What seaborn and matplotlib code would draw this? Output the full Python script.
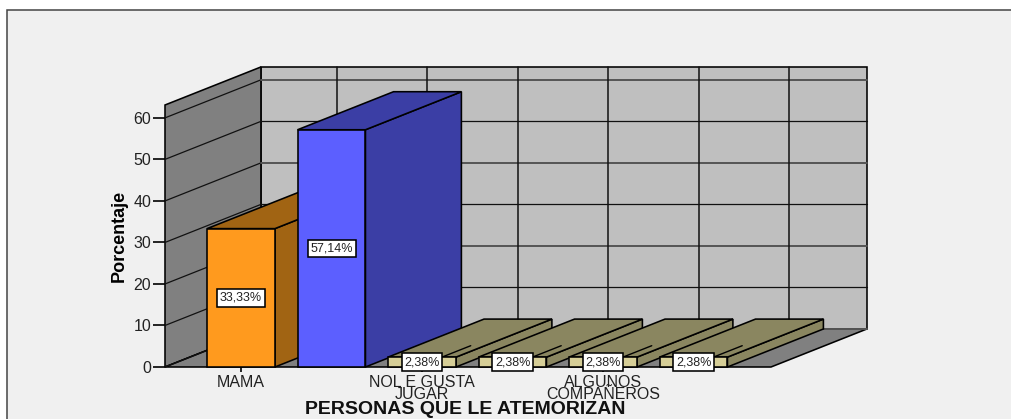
import matplotlib
matplotlib.use("Agg")
import matplotlib.pyplot as plt
import pandas as pd
import seaborn as sns
from matplotlib.patches import Polygon, Rectangle

# Datos
CATEGORIES = ["MAMA", " ", "NOL E GUSTA\nJUGAR", "  ", "ALGUNOS\nCOMPAÑEROS", "   "]
VALUES = [33.33, 57.14, 2.38, 2.38, 2.38, 2.38]
VALUE_LABELS = ["33,33%", "57,14%", "2,38%", "2,38%", "2,38%", "2,38%"]
FRONT_COLORS = ["#FF9A1E", "#5C5FFF", "#D6CE97", "#D6CE97", "#D6CE97", "#D6CE97"]
SIDE_COLORS = ["#A16413", "#3B3EA5", "#8A8660", "#8A8660", "#8A8660", "#8A8660"]
Y_TICKS = [0, 10, 20, 30, 40, 50, 60]

# Perspectiva del cubo, en unidades de los ejes
DEPTH_X = 1.06
DEPTH_Y = 9.16
X_LEFT, X_RIGHT = -0.84, 5.856
Y_TOP = 63.1
BAR_WIDTH = 0.75
EDGE = 1.15

sns.set_theme(style="white")
plt.rcParams["font.family"] = ["Liberation Sans", "DejaVu Sans"]

fig = plt.figure(figsize=(10.11, 4.19), dpi=100, facecolor="white")

# Marco de fondo gris claro
fig.add_artist(Rectangle((7 / 1011, -0.05), 1.05, 0.05 + 409 / 419, transform=fig.transFigure,
                         facecolor="#F0F0F0", edgecolor="#444444", linewidth=1.1, zorder=-1))

ax = fig.add_axes([165 / 1011, 52 / 419, 606 / 1011, 262 / 419])
ax.patch.set_visible(False)


def face(points, color, z):
    ax.add_patch(Polygon(points, closed=True, facecolor=color, edgecolor="black",
                         linewidth=EDGE, zorder=z, clip_on=False, joinstyle="miter"))


df = pd.DataFrame({"categoria": CATEGORIES, "porcentaje": VALUES})
sns.barplot(data=df, x="categoria", y="porcentaje", hue="categoria", palette=FRONT_COLORS,
            dodge=False, legend=False, width=BAR_WIDTH, edgecolor="black", linewidth=EDGE,
            saturation=1, ax=ax)
fronts = list(ax.patches)

ax.set_xlim(X_LEFT, X_RIGHT)
ax.set_ylim(0, Y_TOP)

# Paredes y suelo
back_l, back_r = X_LEFT + DEPTH_X, X_RIGHT + DEPTH_X
face([(back_l, DEPTH_Y), (back_r, DEPTH_Y), (back_r, Y_TOP + DEPTH_Y), (back_l, Y_TOP + DEPTH_Y)], "#BFBFBF", 0.5)
face([(X_LEFT, 0), (back_l, DEPTH_Y), (back_l, Y_TOP + DEPTH_Y), (X_LEFT, Y_TOP)], "#808080", 0.6)
face([(X_LEFT, 0), (X_RIGHT, 0), (back_r, DEPTH_Y), (back_l, DEPTH_Y)], "#808080", 0.6)

# Rejilla: en la pared del fondo alterna lineas grises gruesas y negras finas
for y in Y_TICKS:
    ax.plot([X_LEFT, back_l], [y, y + DEPTH_Y], color="#111111", linewidth=0.9, zorder=0.8, clip_on=False)
    even = y % 20 == 0
    ax.plot([back_l, back_r], [y + DEPTH_Y, y + DEPTH_Y], color="#555555" if even else "#111111",
            linewidth=1.4 if even else 0.9, zorder=0.8, clip_on=False)
for i in range(len(CATEGORIES)):
    ax.plot([i + DEPTH_X, i + DEPTH_X], [DEPTH_Y, Y_TOP + DEPTH_Y], color="#111111",
            linewidth=1.1, zorder=0.8, clip_on=False)

# Caras de las barras, de izquierda a derecha
half = BAR_WIDTH / 2
for i, (val, side, txt) in enumerate(zip(VALUES, SIDE_COLORS, VALUE_LABELS)):
    z = 2 + i
    l, r = i - half, i + half
    face([(r, 0), (r + DEPTH_X, DEPTH_Y), (r + DEPTH_X, val + DEPTH_Y), (r, val)], side, z)
    face([(l, val), (r, val), (r + DEPTH_X, val + DEPTH_Y), (l + DEPTH_X, val + DEPTH_Y)], side, z)
    fronts[i].set_zorder(z + 0.2)
    fronts[i].set_clip_on(False)
    if val < 5:
        ax.plot([i + 0.22, i + 0.22 + 0.3 * DEPTH_X], [val, val + 0.3 * DEPTH_Y],
                color="black", linewidth=1.0, zorder=z + 0.1)
    ax.text(i, val / 2, txt, ha="center", va="center", fontsize=9, color="#222222", zorder=z + 0.5,
            bbox=dict(boxstyle="square,pad=0.22", facecolor="white", edgecolor="black", linewidth=EDGE))

# Ejes
for s in ["top", "right", "left", "bottom"]:
    ax.spines[s].set_visible(False)
ax.set_yticks(Y_TICKS)
ax.set_xticks([i for i, c in enumerate(CATEGORIES) if c.strip()])
ax.set_xticklabels([c for c in CATEGORIES if c.strip()], fontsize=11.5, linespacing=0.68, color="#222222")
ax.tick_params(axis="y", left=True, length=8.5, width=1.2, color="black", pad=1.5, labelsize=11.5, labelcolor="#222222")
ax.tick_params(axis="x", bottom=True, length=3.6, width=1.2, color="black", pad=2.5)
ax.set_ylabel("Porcentaje", fontsize=13, fontweight="bold", color="black", labelpad=4)
ax.set_xlabel("PERSONAS QUE LE ATEMORIZAN", fontsize=14, fontweight="bold", color="#111111")
ax.xaxis.set_label_coords(0.495, -33.5 / 262)

fig.savefig("out.png", dpi=100, facecolor=fig.get_facecolor())
